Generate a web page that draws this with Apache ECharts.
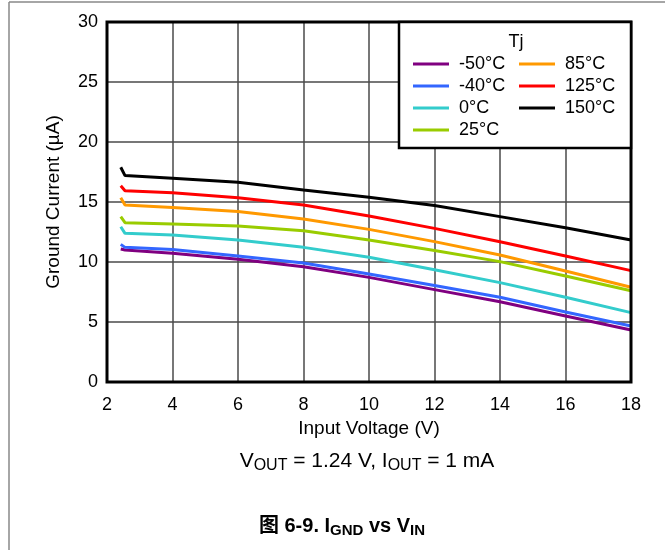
<!DOCTYPE html>
<html>
<head>
<meta charset="utf-8">
<script src="https://cdn.jsdelivr.net/npm/echarts@6/dist/echarts.min.js"></script>
<style>html,body{margin:0;padding:0;background:#fff}#c{width:665px;height:550px}</style>
</head>
<body>
<div id="c"></div>
<script>
var xVals = [2.42, 2.55, 4, 6, 8, 10, 12, 14, 16, 18];
var seriesNames = ['-50°C', '-40°C', '0°C', '25°C', '85°C', '125°C', '150°C'];
var tm50 = [11.08, 11.0, 10.72, 10.22, 9.61, 8.72, 7.7, 6.69, 5.5, 4.33];
var tm40 = [11.47, 11.22, 11.05, 10.5, 9.92, 9.0, 8.05, 7.06, 5.83, 4.67];
var t0 = [12.94, 12.39, 12.25, 11.83, 11.22, 10.39, 9.35, 8.28, 7.06, 5.78];
var t25 = [13.78, 13.28, 13.17, 13.0, 12.61, 11.83, 10.95, 10.03, 8.83, 7.61];
var t85 = [15.36, 14.75, 14.55, 14.2, 13.58, 12.72, 11.7, 10.58, 9.25, 7.89];
var t125 = [16.36, 15.94, 15.78, 15.36, 14.75, 13.83, 12.8, 11.69, 10.5, 9.28];
var t150 = [17.9, 17.2, 16.97, 16.64, 16.0, 15.39, 14.7, 13.78, 12.86, 11.83];
var xTicks = [2, 4, 6, 8, 10, 12, 14, 16, 18];
var yTicks = [0, 5, 10, 15, 20, 25, 30];

var allData = [tm50, tm40, t0, t25, t85, t125, t150];
var colors = ['#800080', '#3366ff', '#33cccc', '#99cc00', '#ff9900', '#ff0000', '#000000'];
var FONT = '"Liberation Sans", Arial, Helvetica, sans-serif';

var series = allData.map(function (arr, i) {
  return {
    name: seriesNames[i],
    type: 'line',
    symbol: 'none',
    lineStyle: { width: 3, color: colors[i] },
    itemStyle: { color: colors[i] },
    data: arr.map(function (v, j) { return [xVals[j], v]; }),
    z: 3
  };
});

var legendCommon = {
  orient: 'vertical',
  top: 55,
  z: 10,
  padding: 0,
  icon: 'rect',
  itemWidth: 36,
  itemHeight: 3,
  itemGap: 4,
  textStyle: { fontFamily: FONT, fontSize: 18, color: '#000', lineHeight: 18, padding: [0, 0, 0, 5] },
  selectedMode: false
};

var chart = echarts.init(document.getElementById('c'));
chart.setOption({
  animation: false,
  backgroundColor: '#fff',
  textStyle: { fontFamily: FONT },
  grid: {
    left: 107, top: 22, right: 34, bottom: 168,
    show: true, borderWidth: 3, borderColor: '#000', backgroundColor: 'transparent', z: 4
  },
  legend: [
    Object.assign({ left: 413, data: seriesNames.slice(0, 4) }, legendCommon),
    Object.assign({ left: 519, data: seriesNames.slice(4) }, legendCommon)
  ],
  xAxis: {
    type: 'value', min: xTicks[0], max: xTicks[xTicks.length - 1], interval: 2,
    name: 'Input Voltage (V)', nameLocation: 'middle', nameGap: 32,
    nameTextStyle: { fontFamily: FONT, fontSize: 19, color: '#000' },
    axisLine: { show: false }, axisTick: { show: false },
    axisLabel: { fontFamily: FONT, fontSize: 18, color: '#000', margin: 14 },
    splitLine: { show: true, lineStyle: { color: '#4a4a4a', width: 1.5 } }
  },
  yAxis: {
    type: 'value', min: yTicks[0], max: yTicks[yTicks.length - 1], interval: 5,
    name: 'Ground Current (µA)', nameLocation: 'middle', nameGap: 44,
    nameTextStyle: { fontFamily: FONT, fontSize: 19, color: '#000' },
    axisLine: { show: false }, axisTick: { show: false },
    axisLabel: { fontFamily: FONT, fontSize: 18, color: '#000', margin: 9 },
    splitLine: { show: true, lineStyle: { color: '#4a4a4a', width: 1.5 } }
  },
  series: series,
  graphic: [
    { type: 'line', shape: { x1: 9, y1: 2, x2: 665, y2: 2 }, style: { stroke: '#888', lineWidth: 1.5 }, silent: true },
    { type: 'line', shape: { x1: 9, y1: 2, x2: 9, y2: 550 }, style: { stroke: '#888', lineWidth: 1.5 }, silent: true },
    { type: 'rect', shape: { x: 399, y: 22, width: 232, height: 126 }, style: { fill: '#fff', stroke: '#000', lineWidth: 2.5 }, z: 5, silent: true },
    { type: 'text', x: 516, y: 42, z: 6, style: { text: 'Tj', fontFamily: FONT, fontSize: 18, fill: '#000', align: 'center', verticalAlign: 'middle' } },
    {
      type: 'text', x: 367, y: 461, z: 6,
      style: {
        text: 'V{s|OUT} = 1.24 V, I{s|OUT} = 1 mA',
        fontFamily: FONT, fontSize: 21, fill: '#000', align: 'center', verticalAlign: 'middle',
        lineHeight: 26,
        rich: { s: { fontFamily: FONT, fontSize: 16, fill: '#000', verticalAlign: 'bottom', lineHeight: 16 } }
      }
    },
    {
      type: 'text', x: 342, y: 526, z: 6,
      style: {
        text: '图 6-9. I{s|GND} vs V{s|IN}',
        fontFamily: '"Liberation Sans", "Noto Sans CJK SC", Arial, sans-serif', fontSize: 20, fontWeight: 'bold', fill: '#000', align: 'center', verticalAlign: 'middle',
        lineHeight: 24,
        rich: { s: { fontFamily: FONT, fontSize: 15, fontWeight: 'bold', fill: '#000', verticalAlign: 'bottom', lineHeight: 14 } }
      }
    }
  ]
});
</script>
</body>
</html>
